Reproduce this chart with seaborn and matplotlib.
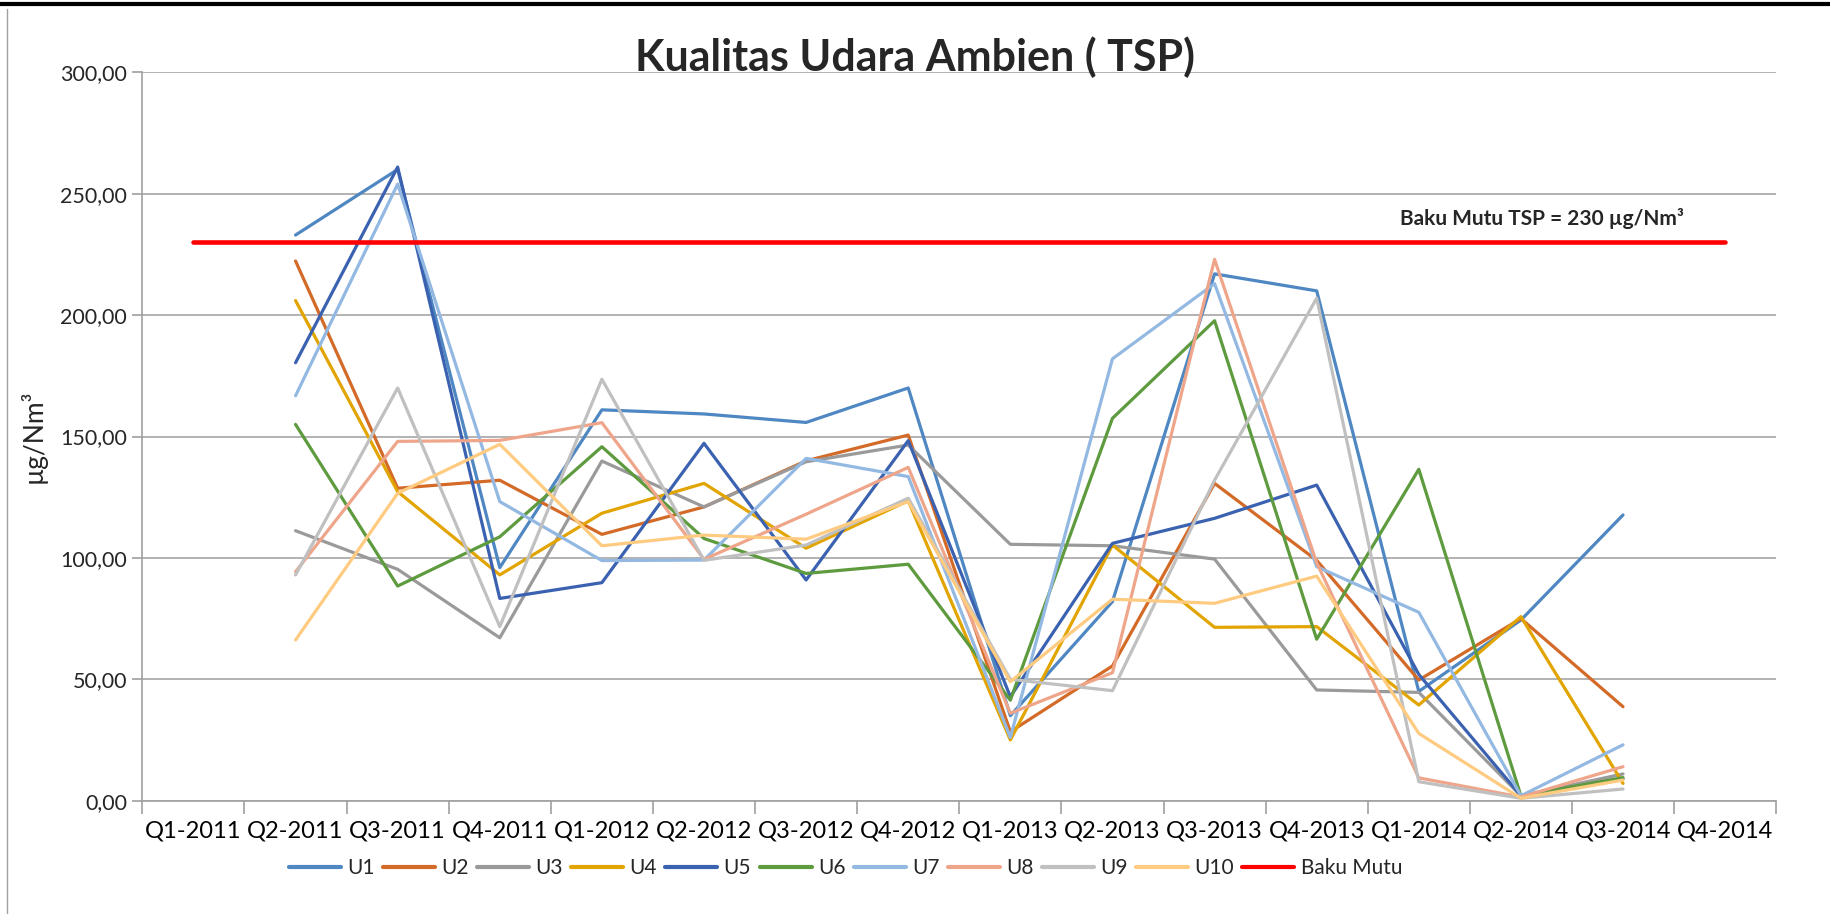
import numpy as np
import pandas as pd
import matplotlib
matplotlib.use("Agg")
import matplotlib.pyplot as plt
import seaborn as sns
from matplotlib.lines import Line2D
from matplotlib.ticker import FixedLocator, FuncFormatter

quarters = ["Q1-2011", "Q2-2011", "Q3-2011", "Q4-2011", "Q1-2012", "Q2-2012", "Q3-2012",
            "Q4-2012", "Q1-2013", "Q2-2013", "Q3-2013", "Q4-2013", "Q1-2014", "Q2-2014",
            "Q3-2014", "Q4-2014"]
nan = np.nan
U1 = [nan, 233.0, 260.0, 96.0, 161.0, 159.3, 155.8, 170.0, 35.0, 82.0, 217.0, 210.0, 45.0, 74.4, 117.7, nan]
U2 = [nan, 222.3, 128.7, 132.0, 109.7, 121.0, 140.0, 150.6, 28.4, 55.5, 130.7, 99.0, 49.7, 75.0, 38.7, nan]
U3 = [nan, 111.2, 95.3, 67.1, 139.9, 121.0, 139.6, 146.5, 105.6, 105.0, 99.5, 45.6, 44.6, 2.0, 11.0, nan]
U4 = [nan, 206.0, 127.3, 93.0, 118.4, 130.7, 104.0, 123.5, 25.0, 105.3, 71.4, 71.7, 39.4, 75.8, 7.1, nan]
U5 = [nan, 180.4, 261.0, 83.3, 89.8, 147.2, 90.9, 148.3, 42.8, 106.0, 116.3, 130.0, 52.0, 2.0, 9.0, nan]
U6 = [nan, 155.0, 88.4, 108.7, 145.8, 108.0, 93.6, 97.4, 41.4, 157.5, 197.7, 66.5, 136.5, 2.0, 9.5, nan]
U7 = [nan, 166.8, 254.0, 123.2, 98.9, 99.1, 141.0, 133.5, 26.0, 182.0, 213.0, 96.4, 77.6, 2.0, 23.0, nan]
U8 = [nan, 94.3, 148.0, 148.4, 155.7, 99.4, 118.0, 137.3, 36.0, 52.7, 223.0, 98.0, 9.4, 1.5, 14.0, nan]
U9 = [nan, 93.0, 170.0, 71.7, 173.6, 99.0, 105.3, 124.6, 50.0, 45.3, 132.0, 207.0, 7.8, 1.0, 4.8, nan]
U10 = [nan, 66.2, 126.6, 146.8, 105.0, 109.4, 107.7, 123.2, 49.0, 83.0, 81.3, 92.5, 27.7, 1.0, 8.5, nan]
baku_mutu = [230.0] * 16

series_names = ["U1", "U2", "U3", "U4", "U5", "U6", "U7", "U8", "U9", "U10", "Baku Mutu"]
series_values = [U1, U2, U3, U4, U5, U6, U7, U8, U9, U10, baku_mutu]
colors = ["#4E87C2", "#D46A27", "#9A9A9A", "#E2A400", "#3B62B0", "#5E9A3E",
          "#93B9E2", "#EFA58A", "#C0C0C0", "#FFCB80", "#FF0000"]

sns.set_theme(style="white")
plt.rcParams["font.family"] = ["Lato", "DejaVu Sans"]

fig = plt.figure(figsize=(18.3, 9.14), dpi=100)
ax = fig.add_axes([0.0778, 0.124, 0.8928, 0.7968])

xpos = np.arange(len(quarters))
for name, vals, col in zip(series_names, series_values, colors):
    df = pd.DataFrame({"x": xpos, "y": vals}).dropna()
    lw = 3.3 if name == "Baku Mutu" else 2.3
    sns.lineplot(data=df, x="x", y="y", color=col, linewidth=lw, ax=ax,
                 label=name, sort=False, legend=False, zorder=3 if name == "Baku Mutu" else 2)

ax.set_xlim(-0.5, len(quarters) - 0.5)
ax.set_ylim(0, 300)
ax.set_yticks(np.arange(0, 301, 50))
ax.yaxis.set_major_formatter(FuncFormatter(lambda v, p: f"{v:.2f}".replace(".", ",")))
ax.set_xticks(xpos)
ax.set_xticklabels(quarters)
ax.xaxis.set_minor_locator(FixedLocator(np.arange(-0.5, len(quarters), 1.0)))
ax.tick_params(axis="x", which="major", length=0, pad=14, labelsize=17, colors="#000000")
ax.tick_params(axis="x", which="minor", length=9, width=1.2, color="#A0A0A0", bottom=True)
ax.tick_params(axis="y", which="major", length=7, width=1.2, color="#A0A0A0", left=True,
               labelsize=15.5, pad=4)
ax.grid(axis="y", color="#A6A6A6", linewidth=1.2)
ax.grid(axis="x", visible=False)
for s in ["top", "right"]:
    ax.spines[s].set_visible(False)
for s in ["left", "bottom"]:
    ax.spines[s].set_color("#A0A0A0")
    ax.spines[s].set_linewidth(1.2)
ax.set_xlabel("")
ax.set_ylabel("µg/Nm³", fontsize=19, labelpad=10)

fig.text(0.500, 0.937, "Kualitas Udara Ambien ( TSP)", ha="center", va="center",
         fontsize=31, fontweight="bold")
ax.text(14.6, 240, "Baku Mutu TSP = 230 µg/Nm³", ha="right", va="center",
        fontsize=15, fontweight="bold")

handles = [Line2D([0], [0], color=c, linewidth=3.0) for c in colors]
fig.legend(handles, series_names, loc="center", bbox_to_anchor=(0.462, 0.05), ncol=11,
           frameon=False, fontsize=15, handlelength=2.5, handletextpad=0.3, columnspacing=0.4)

fig.add_artist(Line2D([0, 1], [0.996, 0.996], color="black", linewidth=3, transform=fig.transFigure))
fig.add_artist(Line2D([0.004, 0.004], [0, 0.99], color="#A0A0A0", linewidth=1, transform=fig.transFigure))

fig.savefig("out.png", dpi=100, facecolor="white")
